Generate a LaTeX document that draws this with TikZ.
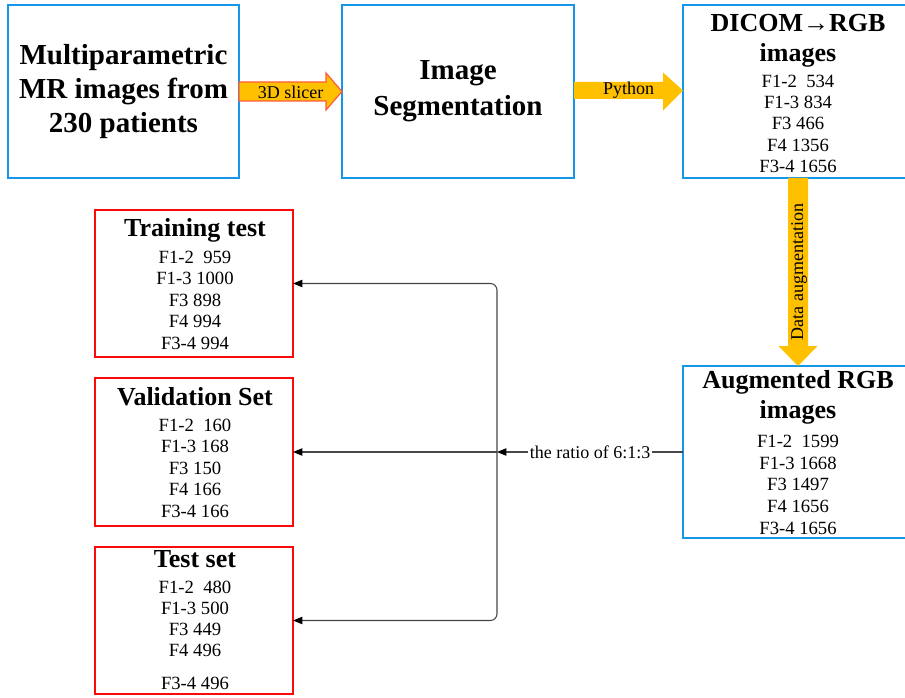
\documentclass[tikz,border=0pt]{standalone}
\usepackage{fontspec}
\setmainfont{Liberation Serif}
\usetikzlibrary{calc,arrows.meta}
\definecolor{boxblue}{RGB}{20,150,235}
\definecolor{boxred}{RGB}{250,10,10}
\definecolor{arrowfill}{RGB}{255,192,0}
\definecolor{arrowedge}{RGB}{255,90,60}
\definecolor{connector}{RGB}{70,70,70}
\tikzset{
  bluebox/.style={draw=boxblue, line width=2pt, inner sep=0pt, outer sep=0pt},
  redbox/.style={draw=boxred, line width=2pt, inner sep=0pt, outer sep=0pt},
  titletext/.style={font=\fontsize{21.75}{25.5}\selectfont\bfseries, align=center},
  headtext/.style={font=\fontsize{19.5}{22}\selectfont\bfseries, anchor=base, inner sep=0pt},
  smalltext/.style={font=\fontsize{14}{16}\selectfont, anchor=base, inner sep=0pt},
  lbltext/.style={font=\fontsize{13.5}{16}\selectfont, inner sep=0pt},
  bigarrow/.style={fill=arrowfill},
  conn/.style={draw=connector, line width=0.8pt, -{Triangle[length=7pt,width=5.5pt,fill=black,color=black]}},
}
\begin{document}
\begin{tikzpicture}[x=0.75pt,y=-0.75pt]
\useasboundingbox (0,0) rectangle (905,698);

% boxes
\node[bluebox, minimum width=231*0.75pt, minimum height=173*0.75pt] (mr) at (123.5,91.5) {};
\node[bluebox, minimum width=232*0.75pt, minimum height=173*0.75pt] (seg) at (458,91.5) {};
\node[bluebox, minimum width=230*0.75pt, minimum height=173*0.75pt] (dicom) at (798,91.5) {};
\node[bluebox, minimum width=230*0.75pt, minimum height=172*0.75pt] (aug) at (798,452) {};
\node[redbox, minimum width=198*0.75pt, minimum height=147*0.75pt] (train) at (194,283.5) {};
\node[redbox, minimum width=198*0.75pt, minimum height=148*0.75pt] (val) at (194,452) {};
\node[redbox, minimum width=198*0.75pt, minimum height=147*0.75pt] (test) at (194,620.5) {};

% box texts
\node[titletext] (mrtext) at (mr.center) {Multiparametric\\MR images from\\230 patients};
\node[titletext, font=\fontsize{21.75}{27}\selectfont\bfseries] (segtext) at (seg.center) {Image\\Segmentation};

\node[headtext] (dicomt1) at (798,32) {DICOM→RGB};
\node[headtext] (dicomt2) at (798,62) {images};
\foreach \y/\t in {88/{F1-2\ \ 534},109/{F1-3 834},130/{F3 466},151.5/{F4 1356},173/{F3-4 1656}}
  \node[smalltext] at (798,\y) {\t};

\node[headtext] (augt1) at (798,388) {Augmented RGB};
\node[headtext] (augt2) at (798,418) {images};
\foreach \y/\t in {447/{F1-2\ \ 1599},469/{F1-3 1668},490.5/{F3 1497},512.5/{F4 1656},534/{F3-4 1656}}
  \node[smalltext] at (798,\y) {\t};

\node[headtext] (traint) at (195,237) {Training test};
\foreach \y/\t in {263/{F1-2\ \ 959},284.5/{F1-3 1000},306/{F3 898},327.5/{F4 994},349/{F3-4 994}}
  \node[smalltext] at (195,\y) {\t};

\node[headtext] (valt) at (195,405) {Validation Set};
\foreach \y/\t in {431/{F1-2\ \ 160},452.5/{F1-3 168},474/{F3 150},495.5/{F4 166},517/{F3-4 166}}
  \node[smalltext] at (195,\y) {\t};

\node[headtext] (testt) at (195,567) {Test set};
\foreach \y/\t in {593/{F1-2\ \ 480},614/{F1-3 500},635/{F3 449},656.5/{F4 496},689/{F3-4 496}}
  \node[smalltext] at (195,\y) {\t};

% block arrows
\filldraw[fill=arrowfill, draw=arrowedge, line width=0.9pt, line join=miter]
  ($(mr.east)+(0,-9.5)$) -- ($(seg.west)+(-16,-9.5)$) -- ($(seg.west)+(-16,-18.5)$)
  -- (seg.west) -- ($(seg.west)+(-16,18.5)$) -- ($(seg.west)+(-16,9.5)$)
  -- ($(mr.east)+(0,9.5)$) -- cycle;
\node[lbltext] (slicerlbl) at ($(mr.east)!0.5!(seg.west)+(0,1)$) {3D slicer};

\fill[bigarrow]
  ($(seg.east)+(0,-9.5)$) -- ($(dicom.west)+(-20,-9.5)$) -- ($(dicom.west)+(-20,-19)$)
  -- ($(dicom.west)+(0,-1)$) -- ($(dicom.west)+(-20,19)$) -- ($(dicom.west)+(-20,7.5)$)
  -- ($(seg.east)+(0,7.5)$) -- cycle;
\node[lbltext] (pythonlbl) at ($(seg.east)!0.5!(dicom.west)+(0,-1)$) {Python};

\fill[bigarrow]
  ($(dicom.south)+(-10,0)$) -- ($(aug.north)+(-10,-20)$) -- ($(aug.north)+(-19.5,-20)$)
  -- (aug.north) -- ($(aug.north)+(19.5,-20)$) -- ($(aug.north)+(10,-20)$)
  -- ($(dicom.south)+(10,0)$) -- cycle;
\node[lbltext, rotate=90] (auglbl) at ($(dicom.south)!0.5!(aug.north)+(1,0)$) {Data augmentation};

% split connectors
\coordinate (hub) at (497,452);
\draw[conn, rounded corners=5pt] (hub) |- (train.east);
\draw[conn, rounded corners=5pt] (hub) |- (test.east);
\draw[conn] (hub) -- (val.east);
\draw[conn] (aug.west) -- node[lbltext, fill=white, inner xsep=1pt, inner ysep=2pt] (ratiolbl) {the ratio of 6:1:3} (hub);
\end{tikzpicture}
\end{document}
